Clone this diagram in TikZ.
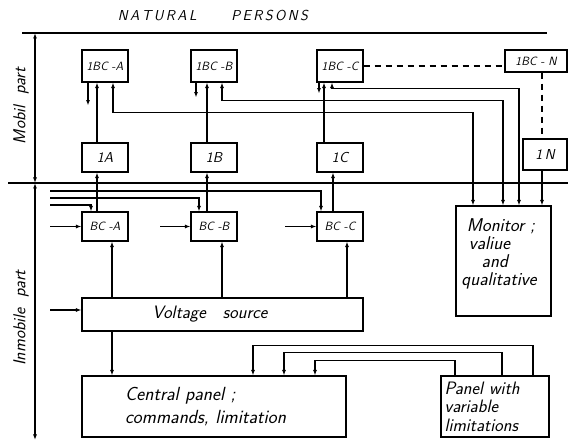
\documentclass[tikz,border=0pt]{standalone}
\usetikzlibrary{arrows.meta}
\begin{document}
\begin{tikzpicture}[x=1pt,y=-1pt,font=\sffamily\itshape\Large,line width=1.1pt,>={Latex[length=5.5pt,width=4pt]},
  blk/.style={draw,rectangle,inner sep=1pt,minimum width=46pt}]
\useasboundingbox (0,0) rectangle (568,443);
\node (nat) at (213,16) {N\,A\,T\,U\,R\,A\,L\hspace{2.4em}P\,E\,R\,S\,O\,N\,S};
\draw (22,33) -- (547,33);
\draw (8,183) -- (568,183);
\draw[<->] (35,33) -- (35,183);
\draw[<->] (35,183) -- (35,440);
\node[rotate=90,font=\sffamily\itshape\LARGE] (mob) at (21,106) {Mobil\ \ part};
\node[rotate=90,font=\sffamily\itshape\LARGE] (inm) at (21,318) {Inmobile\ \ part};
\foreach \c/\x in {A/105,B/214,C/340}{
  \node[blk,minimum height=32pt,font=\sffamily\itshape\large] (ibc\c) at (\x,66) {1BC -\c};
  \node[blk,minimum height=29pt] (one\c) at (\x,157.5) {1\c};
  \node[blk,minimum height=29pt,font=\sffamily\itshape\large] (bc\c) at (\x,226.5) {BC -\c};
}
\node[blk,minimum width=62pt,minimum height=22pt,font=\sffamily\itshape\large] (ibcN) at (536,61) {1BC - N};
\node[blk,minimum width=44pt,minimum height=31pt] (oneN) at (545,154.5) {1\,N};
\node[blk,minimum width=95pt,minimum height=110pt] (mon) at (503.5,261) {};
\node[align=left,font=\sffamily\itshape\fontsize{18.5}{18}\selectfont] (montxt) at (499,254) {\hspace{0.3em}Monitor ;\\\hspace{0.4em}valiue\\\hspace{1.1em}and\\qualitative};
\node[blk,minimum width=281pt,minimum height=33pt,font=\sffamily\itshape\fontsize{18}{22}\selectfont] (volt) at (222.5,314.5) {\hspace{-1.4em}Voltage\ \ \ source};
\node[blk,minimum width=264pt,minimum height=61pt,text width=178pt,align=left,font=\sffamily\itshape\fontsize{19}{23}\selectfont] (cpan) at (214,406.5) {Central panel ;\\commands,\ limitation};
\node[blk,minimum width=108pt,minimum height=61pt,text width=101pt,align=left,font=\sffamily\itshape\fontsize{18}{18.5}\selectfont] (vpan) at (495,406.5) {Panel with\\variable\\limitations};
% mobil part
\draw[->] ([xshift=-8pt]oneA.north) -- ([xshift=-8pt]ibcA.south);
\draw[->] ([xshift=-17pt]ibcA.south) -- ++(0,23);
\draw[<->] ([xshift=8pt]ibcA.south) -- ++(0,30) -| ([xshift=-30.5pt]mon.north);
\draw[->] ([xshift=-7pt]oneB.north) -- ([xshift=-7pt]ibcB.south);
\draw[->] ([xshift=-18pt]ibcB.south) -- ++(0,15);
\draw[<->] ([xshift=8pt]ibcB.south) -- ++(0,18) -| ([xshift=-0.5pt]mon.north);
\draw[->] ([xshift=-16pt]oneC.north) -- ([xshift=-16pt]ibcC.south);
\draw[->] ([xshift=-21pt]ibcC.south) -- ++(0,11);
\draw[<->] ([xshift=-8pt]ibcC.south) -- ++(0,6) -| ([xshift=15.5pt]mon.north);
\draw[dashed,dash pattern=on 6pt off 5pt] (ibcC.east) -- (ibcC.east -| ibcN.west);
\draw[dashed,dash pattern=on 6pt off 5pt] ([xshift=6pt]ibcN.south) -- ([xshift=-3pt]oneN.north);
\draw[->] ([xshift=-3pt]oneN.south) -- ([xshift=38.5pt]mon.north);
% inmobile part
\foreach \c/\dx in {A/-8,B/-7,C/-7}
  \draw[->] ([xshift=\dx pt]bc\c.north) -- ([xshift=\dx pt]one\c.south);
\coordinate (la) at (50,205);
\coordinate (lb) at (50,198);
\coordinate (lc) at (50,191);
\draw[->] (la) -| ([xshift=-14pt]bcA.north);
\draw[->] (lb) -| ([xshift=-15pt]bcB.north);
\draw[->] (lc) -| ([xshift=-19pt]bcC.north);
\coordinate (ina) at (50,226.5);
\coordinate (inb) at (160,226.5);
\coordinate (inc) at (285,226.5);
\coordinate (inv) at (50,310);
\draw[->] (ina) -- (bcA.west);
\draw[->] (inb) -- (bcB.west);
\draw[->] (inc) -- (bcC.west);
\draw[->] (inv) -- (inv -| volt.west);
\draw[->] ([xshift=-110.5pt]volt.north) -- ([xshift=7pt]bcA.south);
\draw[->] ([xshift=-0.5pt]volt.north) -- ([xshift=8pt]bcB.south);
\draw[->] ([xshift=124.5pt]volt.north) -- ([xshift=7pt]bcC.south);
\draw[->] ([xshift=-110.5pt]volt.south) -- ([xshift=-102pt]cpan.north);
\draw[->] ([xshift=38pt]vpan.north) -- ++(0,-30) -| ([xshift=39pt]cpan.north);
\draw[->] ([xshift=7pt]vpan.north) -- ++(0,-23) -| ([xshift=70pt]cpan.north);
\draw[->] ([xshift=-40pt]vpan.north) -- ++(0,-15) -| ([xshift=101pt]cpan.north);
\end{tikzpicture}
\end{document}
